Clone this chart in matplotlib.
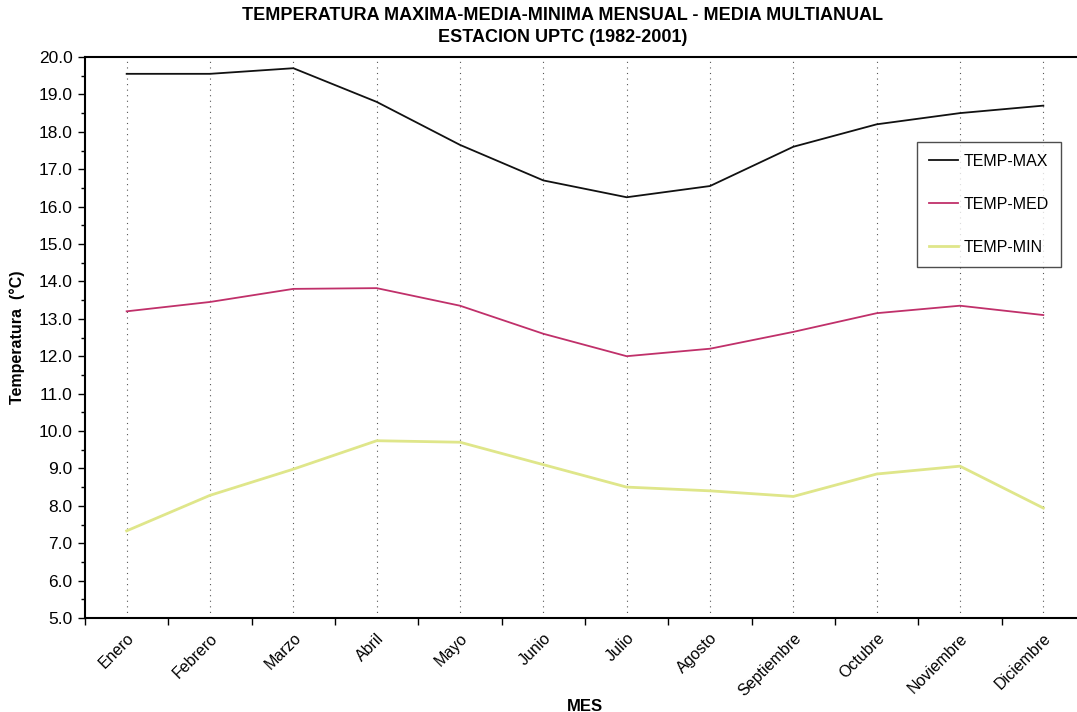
import matplotlib
matplotlib.use("Agg")
import matplotlib.pyplot as plt
from matplotlib.ticker import MultipleLocator, FixedLocator
import numpy as np

meses = ["Enero", "Febrero", "Marzo", "Abril", "Mayo", "Junio", "Julio",
         "Agosto", "Septiembre", "Octubre", "Noviembre", "Diciembre"]
temp_max = [19.55, 19.55, 19.70, 18.80, 17.65, 16.70, 16.25, 16.55, 17.60, 18.20, 18.50, 18.70]
temp_med = [13.20, 13.45, 13.80, 13.82, 13.35, 12.60, 12.00, 12.20, 12.65, 13.15, 13.35, 13.10]
temp_min = [7.33, 8.28, 8.98, 9.74, 9.70, 9.10, 8.50, 8.40, 8.25, 8.85, 9.06, 7.94]

plt.rcParams['font.family'] = ['Liberation Sans', 'DejaVu Sans']

fig = plt.figure(figsize=(10.77, 7.12), dpi=100)
ax = fig.add_axes([85/1077, 1-618/712, 1000/1077, (618-57)/712])

x = np.arange(len(meses))
ax.plot(x, temp_max, color='#111111', lw=1.3, label='TEMP-MAX')
ax.plot(x, temp_med, color='#c0306a', lw=1.3, label='TEMP-MED')
ax.plot(x, temp_min, color='#dfe68a', lw=2.0, label='TEMP-MIN')

ax.set_xlim(-0.5, len(meses) - 0.5)
ax.set_ylim(5, 20)
ax.yaxis.set_minor_locator(MultipleLocator(0.5))
yt = np.arange(5, 20.01, 1.0)
ax.set_yticks(yt)
ax.set_yticklabels([f"{v:.1f}" for v in yt], fontsize=12.5)

ax.set_xticks(x)
ax.set_xticklabels(meses, rotation=45, ha='right', rotation_mode='anchor', fontsize=11.5)
ax.xaxis.set_minor_locator(FixedLocator(np.arange(-0.5, len(meses), 1.0)))
ax.tick_params(axis='x', which='major', length=0, pad=9)
ax.tick_params(axis='x', which='minor', length=5, width=1)
ax.tick_params(axis='y', which='major', length=5, width=1, pad=4)
ax.tick_params(axis='y', which='minor', length=3, width=1)

ax.grid(axis='x', which='major', linestyle=(0, (1, 4)), color='#555555', lw=0.8)

for s in ['left', 'bottom', 'top']:
    ax.spines[s].set_linewidth(1.5)
ax.spines['right'].set_visible(False)

ax.set_ylabel("Temperatura  (°C)", fontsize=11.5, fontweight='bold', labelpad=10)
ax.set_xlabel("MES", fontsize=12, fontweight='bold', labelpad=0)

fig.text(0.522, 1-15/712, "TEMPERATURA MAXIMA-MEDIA-MINIMA MENSUAL - MEDIA MULTIANUAL",
         ha='center', va='center', fontsize=13, fontweight='bold')
fig.text(0.522, 1-38/712, "ESTACION UPTC (1982-2001)",
         ha='center', va='center', fontsize=13, fontweight='bold')

leg = ax.legend(loc='upper left', bbox_to_anchor=((917-85)/1000, 1-(142-57)/561),
                frameon=True, fancybox=False, edgecolor='#222222', fontsize=11.5,
                labelspacing=1.75, handlelength=1.8, borderpad=0.75, handletextpad=0.35,
                borderaxespad=0)
leg.get_frame().set_linewidth(1.0)

fig.savefig("out.png", dpi=100)
